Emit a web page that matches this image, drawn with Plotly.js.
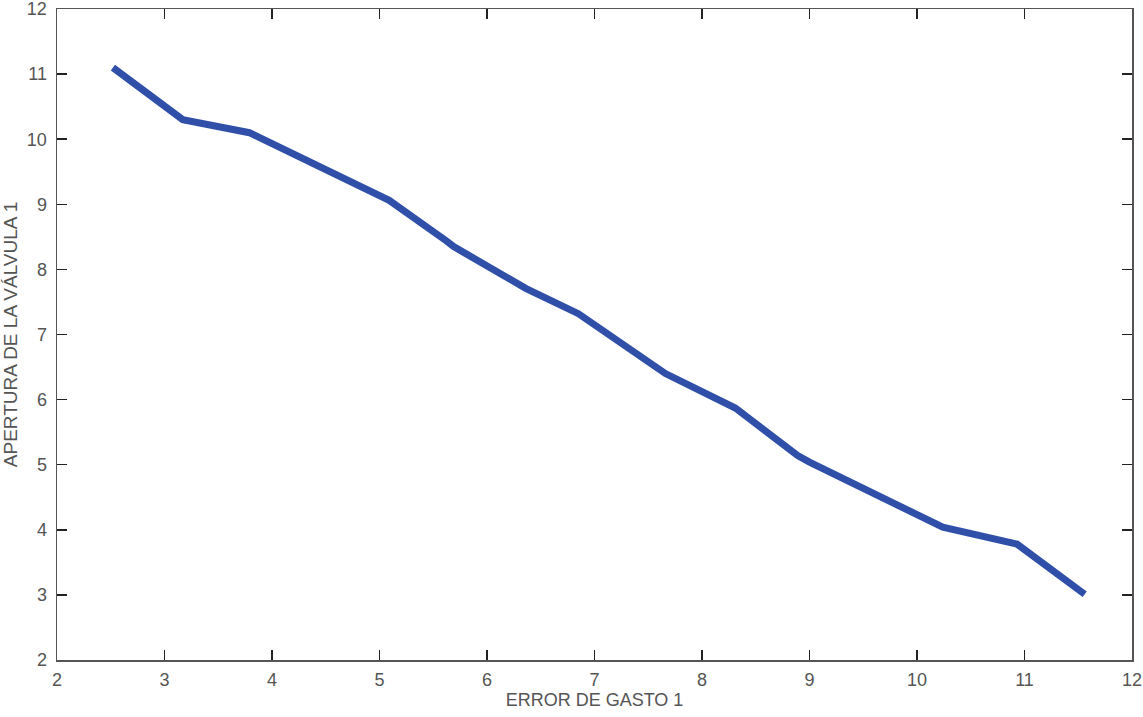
<!DOCTYPE html>
<html>
<head>
<meta charset="utf-8">
<script src="https://cdn.plot.ly/plotly-3.0.1.min.js"></script>
<style>html,body{margin:0;padding:0;background:#fff;}#chart{width:1143px;height:717px;}</style>
</head>
<body>
<div id="chart"></div>
<script>
var errorGasto = [2.52, 3.17, 3.79, 4.40, 5.09, 5.62, 5.69, 6.36, 6.85, 7.66, 8.31, 8.89, 9.00, 10.24, 10.38, 10.93, 11.56];
var aperturaValvula = [11.10, 10.30, 10.10, 9.62, 9.06, 8.44, 8.35, 7.71, 7.32, 6.40, 5.87, 5.14, 5.04, 4.04, 3.99, 3.78, 3.01];
var xTicks = [2, 3, 4, 5, 6, 7, 8, 9, 10, 11, 12];
var yTicks = [2, 3, 4, 5, 6, 7, 8, 9, 10, 11, 12];

var trace = {
  x: errorGasto,
  y: aperturaValvula,
  type: 'scatter',
  mode: 'lines',
  line: {color: '#2f4fa8', width: 7},
  hoverinfo: 'skip'
};

var FONT = 'Liberation Sans, Arial, sans-serif';

var axisCommon = {
  showgrid: false,
  zeroline: false,
  showline: true,
  linecolor: '#555',
  linewidth: 1.5,
  mirror: 'ticks',
  ticks: 'inside',
  ticklen: 10,
  tickwidth: 1.5,
  tickcolor: '#222',
  ticklabeloverflow: 'allow',
  tickfont: {family: FONT, size: 18, color: '#555'}
};

var layout = {
  width: 1143,
  height: 717,
  margin: {l: 57, r: 11, t: 9, b: 57},
  paper_bgcolor: '#fff',
  plot_bgcolor: '#fff',
  showlegend: false,
  xaxis: Object.assign({}, axisCommon, {
    range: [2, 12],
    tickvals: xTicks,
    ticktext: xTicks.map(String),
    ticklabelstandoff: 3,
    title: {text: 'ERROR DE GASTO 1', font: {family: FONT, size: 18, color: '#555'}, standoff: 4}
  }),
  yaxis: Object.assign({}, axisCommon, {
    range: [2, 12],
    tickvals: yTicks,
    ticktext: yTicks.map(String),
    ticklabelstandoff: 5,
    title: {text: 'APERTURA DE LA VÁLVULA 1', font: {family: FONT, size: 19, color: '#555'}, standoff: 10}
  })
};

Plotly.newPlot('chart', [trace], layout, {displayModeBar: false, staticPlot: true});
</script>
</body>
</html>
